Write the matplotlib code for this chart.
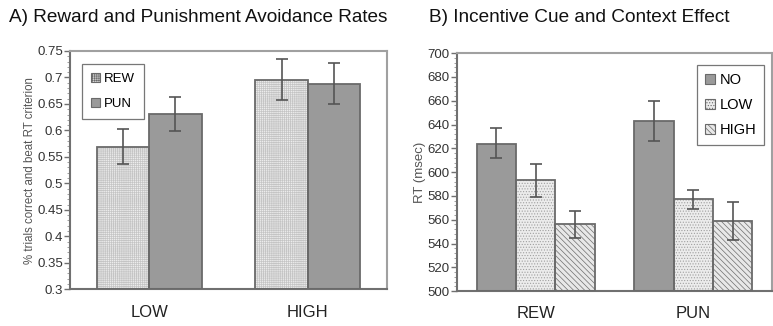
import matplotlib.pyplot as plt
import numpy as np
from matplotlib.ticker import AutoMinorLocator

plt.rcParams['font.family'] = ['Liberation Sans', 'DejaVu Sans']
plt.rcParams['hatch.linewidth'] = 0.5

# Panel A data
a_cats = ['LOW', 'HIGH']
a_rew = [0.569, 0.695]
a_rew_lo = [0.537, 0.657]
a_rew_hi = [0.602, 0.734]
a_pun = [0.631, 0.688]
a_pun_lo = [0.598, 0.649]
a_pun_hi = [0.664, 0.728]

# Panel B data
b_cats = ['REW', 'PUN']
b_no = [624, 643]
b_no_lo = [612, 626]
b_no_hi = [637, 660]
b_low = [593, 577]
b_low_lo = [579, 569]
b_low_hi = [607, 585]
b_high = [556, 559]
b_high_lo = [545, 543]
b_high_hi = [567, 575]

EDGE = '#6a6a6a'
ERR = '#555555'


def hbar(ax, x, h, w, face, hatch, hcol, bottom, label):
    # fill + hatch layer, then outline layer
    ax.bar(x, np.array(h) - bottom, w, bottom=bottom, color=face, hatch=hatch,
           edgecolor=hcol, linewidth=0, zorder=2)
    ax.bar(x, np.array(h) - bottom, w, bottom=bottom, facecolor='none',
           edgecolor=EDGE, linewidth=1.3, zorder=3)
    # proxy for legend
    return plt.Rectangle((0, 0), 1, 1, facecolor=face, hatch=hatch,
                         edgecolor=EDGE, linewidth=0.8, label=label)


def errs(ax, x, v, lo, hi):
    v = np.array(v)
    ax.errorbar(x, v, yerr=[v - np.array(lo), np.array(hi) - v], fmt='none',
                ecolor=ERR, elinewidth=1.2, capsize=4, capthick=1.2, zorder=4)


def style(ax):
    for s in ['top', 'right']:
        ax.spines[s].set_color('#a0a0a0')
        ax.spines[s].set_linewidth(1.5)
    for s in ['left', 'bottom']:
        ax.spines[s].set_color('#707070')
        ax.spines[s].set_linewidth(1.5)
    ax.yaxis.set_minor_locator(AutoMinorLocator(5))
    ax.tick_params(axis='y', which='major', length=4, width=1, color='#707070',
                   labelsize=9.5, labelcolor='#333333', pad=1)
    ax.tick_params(axis='y', which='minor', length=2, width=0.6, color='#909090')
    ax.tick_params(axis='x', length=0, labelsize=12, labelcolor='#222222', pad=11)
    ax.set_xlim(-0.5, 1.5)


fig = plt.figure(figsize=(7.73, 3.26), dpi=100)

# Panel A
ax1 = fig.add_axes([0.0906, 0.1126, 0.41, 0.731])
x = np.arange(len(a_cats))
w = 0.33
p1 = hbar(ax1, x - w / 2, a_rew, w, '#ececec', '++++++++', '#c4c4c4', 0.3, 'REW')
p2 = hbar(ax1, x + w / 2, a_pun, w, '#9a9a9a', None, '#9a9a9a', 0.3, 'PUN')
errs(ax1, x - w / 2, a_rew, a_rew_lo, a_rew_hi)
errs(ax1, x + w / 2, a_pun, a_pun_lo, a_pun_hi)
ax1.set_ylim(0.3, 0.75)
ax1.set_yticks(np.arange(0.3, 0.751, 0.05))
ax1.set_yticklabels(['0.3', '0.35', '0.4', '0.45', '0.5', '0.55', '0.6', '0.65', '0.7', '0.75'])
ax1.set_xticks(x)
ax1.set_xticklabels(a_cats)
ax1.set_ylabel('% trials correct and beat RT criterion', fontsize=8.3, color='#555555', labelpad=1)
style(ax1)
leg1 = ax1.legend(handles=[p1, p2], loc='upper left', bbox_to_anchor=(0.016, 0.975),
                  fontsize=9.5, frameon=True, fancybox=False, edgecolor='#555555',
                  handlelength=0.7, handleheight=0.7, handletextpad=0.3,
                  labelspacing=0.95, borderpad=0.7)
leg1.get_frame().set_linewidth(0.9)

# Panel B
ax2 = fig.add_axes([0.591, 0.107, 0.4077, 0.730])
x = np.arange(len(b_cats))
w = 0.25
q1 = hbar(ax2, x - w, b_no, w, '#9a9a9a', None, '#9a9a9a', 500, 'NO')
q2 = hbar(ax2, x, b_low, w, '#ececec', '......', '#a0a0a0', 500, 'LOW')
q3 = hbar(ax2, x + w, b_high, w, '#e8e8e8', '\\\\\\\\\\\\', '#6e6e6e', 500, 'HIGH')
errs(ax2, x - w, b_no, b_no_lo, b_no_hi)
errs(ax2, x, b_low, b_low_lo, b_low_hi)
errs(ax2, x + w, b_high, b_high_lo, b_high_hi)
ax2.set_ylim(500, 700)
ax2.set_yticks(np.arange(500, 701, 20))
ax2.set_xticks(x)
ax2.set_xticklabels(b_cats)
ax2.set_ylabel('RT (msec)', fontsize=9.5, color='#555555', labelpad=1)
style(ax2)
leg2 = ax2.legend(handles=[q1, q2, q3], loc='upper right', bbox_to_anchor=(0.998, 0.98),
                  fontsize=10.5, frameon=True, fancybox=False, edgecolor='#555555',
                  handlelength=0.7, handleheight=0.7, handletextpad=0.3,
                  labelspacing=0.75, borderpad=0.55)
leg2.get_frame().set_linewidth(0.9)

fig.text(0.012, 0.945, 'A) Reward and Punishment Avoidance Rates', fontsize=13.7,
         color='#111111', va='center')
fig.text(0.555, 0.945, 'B) Incentive Cue and Context Effect', fontsize=13.7,
         color='#111111', va='center')

fig.savefig('out.png', dpi=100)
